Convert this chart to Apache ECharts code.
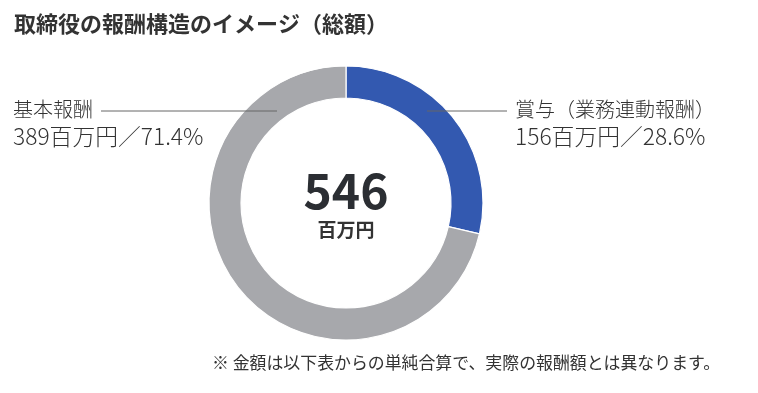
<!DOCTYPE html>
<html><head><meta charset="utf-8">
<script src="https://cdn.jsdelivr.net/npm/echarts@6/dist/echarts.min.js"></script>
<style>html,body{margin:0;padding:0;background:#fff}#c{width:758px;height:393px}</style>
</head><body><div id="c"></div>
<script>
const titleText = '取締役の報酬構造のイメージ（総額）';
const categories = ['賞与（業務連動報酬）', '基本報酬'];
const values = [156, 389];
const amountLabels = ['156百万円', '389百万円'];
const percentLabels = ['28.6%', '71.4%'];
const totalLabel = '546';
const unitLabel = '百万円';
const footnote = '※ 金額は以下表からの単純合算で、実際の報酬額とは異なります。';
const colors = ['#3359B0', '#A7A8AC'];

const FONT = '"Noto Sans CJK JP", "Noto Sans", sans-serif';
const chart = echarts.init(document.getElementById('c'), null, {renderer: 'canvas'});
const cx = 346, cy = 203;
// leader line spans [x1, x2] at the label's first-line height
const leaderLines = [[427, 507], [101, 277]];
const leaderY = 111;

chart.setOption({
  animation: false,
  title: [
    {text: titleText, left: 14, top: 13, padding: 0,
     textStyle: {fontFamily: FONT, fontSize: 22, fontWeight: 'bold', color: '#333'}},
    {text: '{a|' + totalLabel + '}\n{b|' + unitLabel + '}', left: cx, top: 165, padding: 0, textAlign: 'center',
     textStyle: {rich: {
       a: {fontFamily: FONT, fontSize: 48, fontWeight: 'bold', color: '#2b2e33', lineHeight: 52, align: 'center'},
       b: {fontFamily: FONT, fontSize: 19, fontWeight: 'bold', color: '#333', lineHeight: 26, align: 'center'}
     }}},
    {text: footnote, left: 212, top: 354, padding: 0,
     textStyle: {fontFamily: FONT, fontSize: 16.9, fontWeight: 'normal', color: '#333'}}
  ],
  graphic: leaderLines.map(l => ({
    type: 'line', z: 100,
    shape: {x1: l[0], y1: leaderY, x2: l[1], y2: leaderY},
    style: {stroke: '#666', lineWidth: 1}
  })),
  series: [{
    type: 'pie',
    center: [cx, cy],
    radius: [105, 137],
    startAngle: 90,
    clockwise: true,
    avoidLabelOverlap: false,
    itemStyle: {borderColor: '#fff', borderWidth: 1.2},
    emphasis: {disabled: true},
    data: categories.map((n, i) => ({name: n, value: values[i], itemStyle: {color: colors[i]}})),
    label: {
      show: true,
      position: 'outside',
      formatter: p => '{n|' + p.name + '}\n{v|' + amountLabels[p.dataIndex] + '／' + percentLabels[p.dataIndex] + '}',
      rich: {
        n: {fontFamily: FONT, fontSize: 20, fontWeight: 300, color: '#333', lineHeight: 27},
        v: {fontFamily: FONT, fontSize: 22.8, fontWeight: 300, color: '#333', lineHeight: 27}
      }
    },
    labelLine: {show: false},
    labelLayout: function (p) {
      if (p.dataIndex === 0) {
        return {x: 515, y: 96, align: 'left', verticalAlign: 'top'};
      }
      return {x: 13, y: 96, align: 'left', verticalAlign: 'top'};
    }
  }]
});
</script></body></html>
